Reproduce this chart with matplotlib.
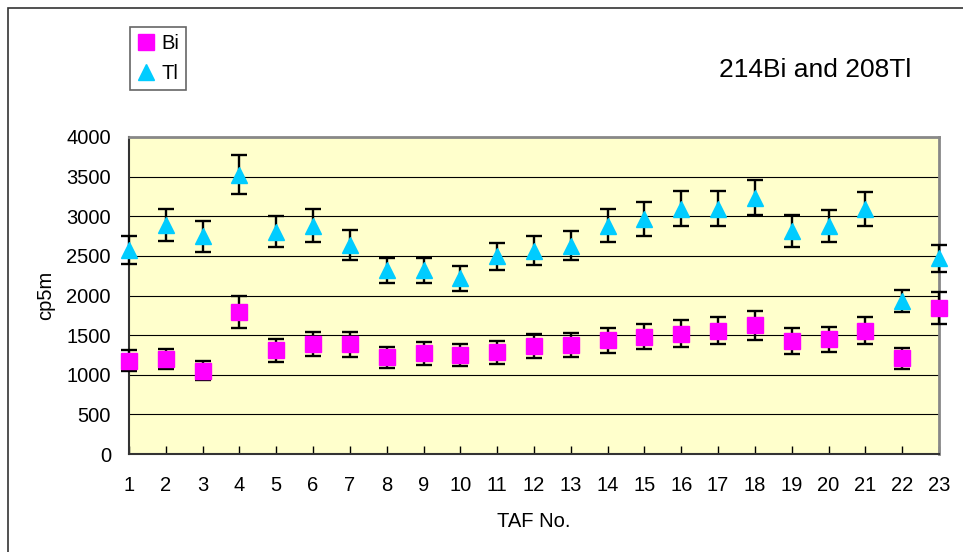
import matplotlib
matplotlib.use("Agg")
import matplotlib.pyplot as plt
from matplotlib.patches import Rectangle

plt.rcParams['font.family'] = ['Liberation Sans', 'DejaVu Sans']

# TAF number vs counts (cp5m)
taf = list(range(1, 24))
bi = [1177, 1198, 1051, 1796, 1307, 1388, 1384, 1219, 1269, 1247, 1281, 1361,
      1380, 1436, 1482, 1520, 1558, 1623, 1426, 1447, 1558, 1209, 1840]
bi_err = [130, 130, 117, 201, 142, 153, 157, 134, 142, 140, 144, 151,
          153, 159, 163, 165, 172, 182, 161, 161, 172, 132, 199]
tl = [2575, 2887, 2747, 3522, 2806, 2883, 2640, 2318, 2318, 2217, 2494, 2567,
      2630, 2881, 2965, 3093, 3095, 3233, 2814, 2879, 3090, 1928, 2468]
tl_err = [180, 203, 193, 247, 197, 203, 186, 161, 161, 157, 174, 180,
          186, 205, 211, 220, 218, 222, 197, 203, 218, 136, 174]

fig = plt.figure(figsize=(9.63, 5.52), dpi=100)
ax = fig.add_axes([129 / 963, 98 / 552, 810 / 963, 317 / 552])
ax.set_facecolor('#FFFFCC')

# error bars first, markers on top
ax.errorbar(taf, bi, yerr=bi_err, fmt='none', ecolor='black', elinewidth=1.7,
            capsize=5.5, capthick=1.7, zorder=3, clip_on=False)
ax.errorbar(taf, tl, yerr=tl_err, fmt='none', ecolor='black', elinewidth=1.7,
            capsize=5.5, capthick=1.7, zorder=3, clip_on=False)
ax.plot(taf, bi, ls='none', marker='s', ms=11, color='#FF00FF', mec='#FF00FF',
        label='Bi', zorder=4, clip_on=False)
ax.plot(taf, tl, ls='none', marker='^', ms=11.5, color='#00CCFF', mec='#00CCFF',
        label='Tl', zorder=4, clip_on=False)

ax.set_xlim(1, 23)
ax.set_ylim(0, 4000)
ax.set_xticks(taf)
ax.set_yticks(range(0, 4001, 500))
ax.yaxis.grid(True, color='black', lw=0.8)
ax.set_axisbelow(True)

ax.tick_params(axis='x', direction='in', length=6, width=1, pad=16, labelsize=14.5)
ax.tick_params(axis='y', length=0, pad=13, labelsize=14.5)

for s in ['top', 'right']:
    ax.spines[s].set_color('#888888')
    ax.spines[s].set_linewidth(2)
for s in ['left', 'bottom']:
    ax.spines[s].set_color('#333333')
    ax.spines[s].set_linewidth(1.5)

ax.set_xlabel('TAF No.', fontsize=14.5, labelpad=12)
ax.set_ylabel('cp5m', fontsize=14.5, labelpad=8)

fig.text(815 / 963, 1 - 70 / 552, '214Bi and 208Tl', ha='center', va='center',
         fontsize=19)

leg = fig.legend(loc='upper left', bbox_to_anchor=(130 / 963, 1 - 27 / 552),
                 fontsize=14.5, frameon=True, fancybox=False, framealpha=1,
                 edgecolor='#666666', handlelength=0.9, handletextpad=0.3,
                 borderpad=0.35, labelspacing=0.55, borderaxespad=0)
leg.get_frame().set_linewidth(1.2)

# outer chart border
fig.patches.append(Rectangle((8 / 963, -0.05), 1.1, 1 - 8 / 552 + 0.05,
                             transform=fig.transFigure, fill=False,
                             edgecolor='#333333', lw=1.2))

fig.savefig('out.png', dpi=100)
